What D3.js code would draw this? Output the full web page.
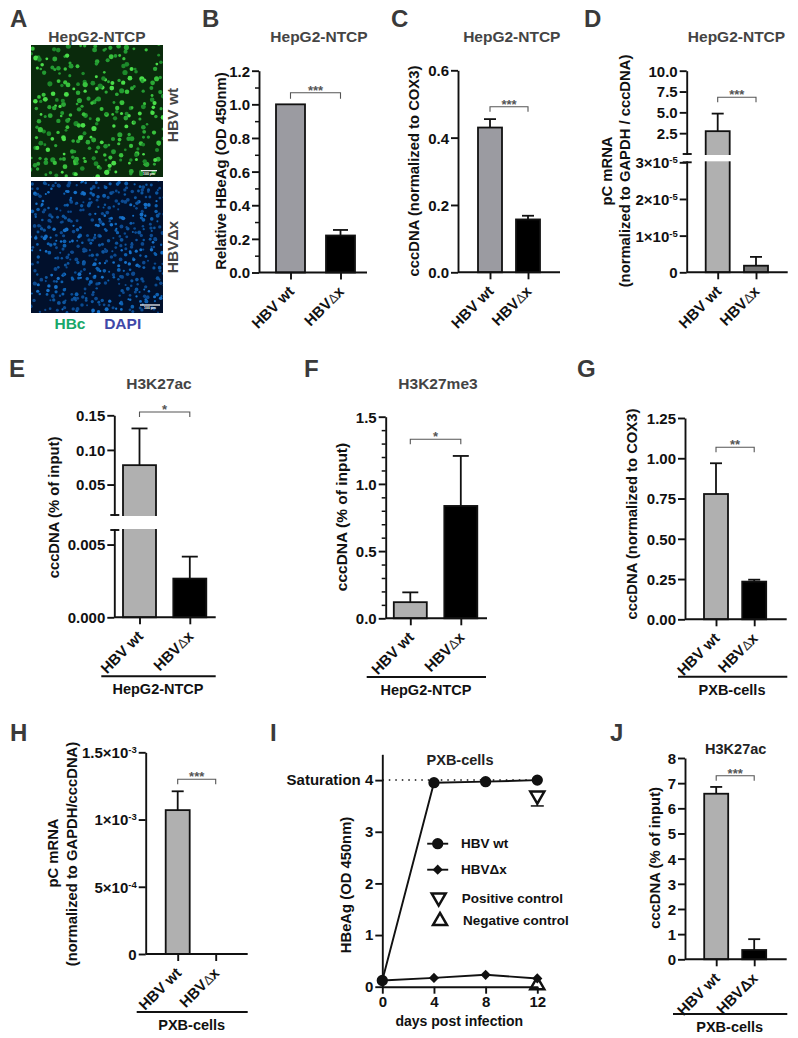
<!DOCTYPE html>
<html>
<head>
<meta charset="utf-8">
<title>HBV panels</title>
<script src="https://cdn.jsdelivr.net/npm/d3@7"></script>
<style>
  html, body { margin: 0; background: #fff; }
  svg { display: block; }
  text { font-family: "Liberation Sans", Arial, sans-serif; font-weight: 700; }
</style>
</head>
<body>
<svg id="fig" width="798" height="1038"></svg>
<script>
// values
var groups = ["HBV wt", "HBV\u0394x"];

var bMeans = [1.0, 0.22], bUppers = [1.0, 0.253];
var cMeans = [0.43, 0.157], cUppers = [0.455, 0.168];
var dMeans = [2.74, 0.18e-5], dUppers = [4.85, 0.42e-5];
var eMeans = [0.078, 0.00266], eUppers = [0.131, 0.00417];
var fMeans = [0.12, 0.836], fUppers = [0.193, 1.208];
var gMeans = [0.778, 0.234], gUppers = [0.969, 0.246];
var hMeans = [1.07e-3, 0], hUppers = [1.21e-3, 0];
var jMeans = [6.58, 0.37], jUppers = [6.85, 0.8];

var days = [0, 4, 8, 12];
var iWt = [0.12, 3.95, 3.97, 4.0];
var iDx = [0.12, 0.17, 0.23, 0.16];
var iPositive = [3.7], iPositiveLower = [3.5], iNegative = [0.03], iControlDay = [12];
var iSaturation = 4;

var bTicks = [0, 0.2, 0.4, 0.6, 0.8, 1.0, 1.2];
var bMinor = [0.1, 0.3, 0.5, 0.7, 0.9, 1.1];
var cTicks = [0, 0.2, 0.4, 0.6];
var dTicks = [0, 1e-5, 2e-5, 3e-5, 2.5, 5, 7.5, 10];
var eTicks = [0, 0.005, 0.05, 0.10, 0.15];
var fTicks = [0, 0.5, 1.0, 1.5];
var fMinor = [0.1, 0.2, 0.3, 0.4, 0.6, 0.7, 0.8, 0.9, 1.1, 1.2, 1.3, 1.4];
var gTicks = [0, 0.25, 0.5, 0.75, 1.0, 1.25];
var hTicks = [0, 5e-4, 1e-3, 1.5e-3];
var iTicks = [0, 1, 2, 3, 4];
var jTicks = [0, 1, 2, 3, 4, 5, 6, 7, 8];

var svg = d3.select("#fig"),
  dark = "#444",
  grey1 = "#9b9ba1",
  grey2 = "#b0b0b0";

function addText(parent, str, x, y, size, opts) {
  opts = opts || {};
  return parent.append("text")
    .attr("x", x)
    .attr("y", y)
    .attr("font-size", size)
    .attr("text-anchor", opts.anchor || "middle")
    .attr("fill", opts.fill || "#111")
    .text(str);
}

function vertText(str, x, y, size) {
  return svg.append("text")
    .attr("transform", "translate(" + x + "," + y + ") rotate(-90)")
    .attr("font-size", size)
    .attr("text-anchor", "middle")
    .attr("fill", "#111")
    .text(str);
}

// exponent ticks like 3x10^-5
function expFormat(text) {
  text.each(function(d) {
    var el = d3.select(this);
    if (d === 0 || d >= 0.1) return;
    var e = Math.floor(Math.log10(d) + 1e-9),
      m = Math.round(d / Math.pow(10, e) * 10) / 10;
    el.text(m + "\u00d710");
    el.append("tspan")
      .attr("dy", -5)
      .attr("font-size", 9.5)
      .text(e);
  });
}

function barPanel(p) {
  var g = svg.append("g"),
    y = d3.scaleLinear().domain(p.domain).range(p.range),
    x = d3.scalePoint().domain(groups).range(p.centers);

  g.selectAll("rect.bar")
    .data(groups.map(function(name, i) { return { name: name, mean: p.means[i], upper: p.uppers[i], fill: p.fills[i] }; }))
    .enter()
    .each(function(d) {
      if (d.mean === 0) return;
      var cx = x(d.name), sel = d3.select(this);
      if (d.upper > d.mean) {
        sel.append("line")
          .attr("x1", cx).attr("x2", cx)
          .attr("y1", y(d.mean)).attr("y2", y(d.upper))
          .attr("stroke", "#111").attr("stroke-width", 1.8);
        sel.append("line")
          .attr("x1", cx - p.capW / 2).attr("x2", cx + p.capW / 2)
          .attr("y1", y(d.upper)).attr("y2", y(d.upper))
          .attr("stroke", "#111").attr("stroke-width", 1.8);
      }
      sel.append("rect")
        .attr("class", "bar")
        .attr("x", cx - p.barW / 2)
        .attr("y", y(d.mean))
        .attr("width", p.barW)
        .attr("height", y(0) - y(d.mean))
        .attr("fill", d.fill)
        .attr("stroke", "#111")
        .attr("stroke-width", 1.8);
    });

  var yAxis = d3.axisLeft(y)
    .tickValues(p.ticks)
    .tickSize(7)
    .tickSizeOuter(0)
    .tickFormat(p.format || function(d) { return d.toFixed(p.digits); });

  var ag = g.append("g")
    .attr("transform", "translate(" + p.axisX + ",0)")
    .call(yAxis);
  ag.selectAll("path, line").attr("stroke", "#111").attr("stroke-width", 1.9);
  ag.selectAll("text")
    .attr("font-size", 15)
    .attr("font-family", "Liberation Sans")
    .attr("fill", "#111")
    .attr("x", -9)
    .attr("dy", "0.36em");
  if (p.exp) ag.selectAll(".tick text").call(expFormat);

  if (p.minor) {
    var mg = g.append("g")
      .attr("transform", "translate(" + p.axisX + ",0)")
      .call(d3.axisLeft(y).tickValues(p.minor).tickSize(4).tickSizeOuter(0).tickFormat(""));
    mg.select("path").remove();
    mg.selectAll("line").attr("stroke", "#111").attr("stroke-width", 1.5);
  }

  // x baseline and category ticks
  g.append("line")
    .attr("x1", p.axisX).attr("x2", p.xEnd)
    .attr("y1", y(0)).attr("y2", y(0))
    .attr("stroke", "#111").attr("stroke-width", 1.9);

  var xg = g.append("g")
    .attr("transform", "translate(0," + y(0) + ")")
    .call(d3.axisBottom(x).tickSize(7).tickSizeOuter(0).tickFormat(""));
  xg.select("path").remove();
  xg.selectAll("line").attr("stroke", "#111").attr("stroke-width", 1.9);

  groups.forEach(function(name) {
    var t = g.append("text")
      .attr("transform", "translate(" + (x(name) + 4.5) + "," + (y(0) + 20) + ") rotate(-45)")
      .attr("text-anchor", "end")
      .attr("font-size", 15)
      .attr("fill", "#111");
    if (name.indexOf("\u0394") > 0 && !p.boldDelta) {
      t.append("tspan").text("HBV");
      t.append("tspan").attr("font-weight", 400).attr("font-size", 13).attr("fill", "#333").text("\u0394");
      t.append("tspan").text("x");
    } else {
      t.text(name);
    }
  });

  // broken axis
  if (p.gap) {
    g.append("rect")
      .attr("x", p.axisX - 3)
      .attr("y", p.gap[0] + 1)
      .attr("width", p.centers[0] + p.barW / 2 - p.axisX + 5)
      .attr("height", p.gap[1] - p.gap[0] - 2)
      .attr("fill", "#fff");
    p.gap.forEach(function(gy) {
      g.append("line")
        .attr("x1", p.axisX - 4).attr("x2", p.axisX + 5)
        .attr("y1", gy).attr("y2", gy)
        .attr("stroke", "#111").attr("stroke-width", 1.9);
    });
  }

  // significance bracket
  var b = p.bracket;
  g.append("path")
    .attr("d", d3.line()([[x(groups[0]), b.y + b.drop], [x(groups[0]), b.y], [x(groups[1]), b.y], [x(groups[1]), b.y + b.drop]]))
    .attr("fill", "none")
    .attr("stroke", "#555")
    .attr("stroke-width", 1.1);
  addText(g, b.stars, (x(groups[0]) + x(groups[1])) / 2, b.y + 2, 13, { fill: "#555" });

  // group underline and cell type
  if (p.under) {
    g.append("line")
      .attr("x1", p.under.x1).attr("x2", p.under.x2)
      .attr("y1", p.under.y).attr("y2", p.under.y)
      .attr("stroke", "#111").attr("stroke-width", 1.9);
    addText(g, p.under.label, p.under.cx, p.under.y + 18, 14.5);
  }
}

barPanel({
  means: bMeans, uppers: bUppers, fills: [grey1, "#000"], ticks: bTicks, minor: bMinor, digits: 1,
  domain: [0, 1.2], range: [272.5, 70.7], axisX: 259, xEnd: 367, centers: [290.5, 340.5], barW: 29, capW: 15,
  bracket: { y: 92.7, drop: 6, stars: "***" }
});
barPanel({
  means: cMeans, uppers: cUppers, fills: [grey1, "#000"], ticks: cTicks, digits: 1,
  domain: [0, 0.6], range: [272.3, 70.3], axisX: 458, xEnd: 560, centers: [490, 528], barW: 24, capW: 12,
  bracket: { y: 106.7, drop: 5, stars: "***" }
});
barPanel({
  means: dMeans, uppers: dUppers, fills: [grey2, "#777"], ticks: dTicks, exp: true,
  format: function(d) { return d >= 0.1 ? d.toFixed(1) : "0"; },
  domain: [0, 3e-5, 3.001e-5, 10], range: [272.3, 162.3, 154, 70.7], axisX: 686.7, xEnd: 787.7,
  centers: [717.7, 756], barW: 24, capW: 12, gap: [154, 162.3],
  bracket: { y: 97.3, drop: 5, stars: "***" }
});
barPanel({
  means: eMeans, uppers: eUppers, fills: [grey2, "#000"], ticks: eTicks,
  format: function(d) { return d < 0.01 ? d.toFixed(3) : d.toFixed(2); },
  domain: [0, 0.006, 0.00601, 0.15], range: [617.3, 530, 515, 415.3], axisX: 114.3, xEnd: 215.7,
  centers: [139.5, 189.8], barW: 33, capW: 16, gap: [515, 530],
  bracket: { y: 412, drop: 5, stars: "*" },
  under: { x1: 101.3, x2: 215.7, y: 676.3, cx: 158, label: "HepG2-NTCP" }
});
barPanel({
  means: fMeans, uppers: fUppers, fills: [grey2, "#000"], ticks: fTicks, minor: fMinor, digits: 1,
  domain: [0, 1.5], range: [618.3, 416.7], axisX: 385.7, xEnd: 487, centers: [410.3, 460.8], barW: 33, capW: 16,
  bracket: { y: 439.3, drop: 5, stars: "*" },
  under: { x1: 366.7, x2: 486, y: 677, cx: 426, label: "HepG2-NTCP" }
});
barPanel({
  means: gMeans, uppers: gUppers, fills: [grey2, "#000"], ticks: gTicks, digits: 2,
  domain: [0, 1.25], range: [619.3, 418], axisX: 685, xEnd: 786.7, centers: [716, 754.2], barW: 24, capW: 12,
  bracket: { y: 447.3, drop: 5, stars: "**" },
  under: { x1: 678, x2: 787.3, y: 676.7, cx: 732, label: "PXB-cells" }
});
barPanel({
  means: hMeans, uppers: hUppers, fills: [grey2, "#000"], ticks: hTicks, exp: true,
  format: function(d) { return d === 0 ? "0" : d; },
  domain: [0, 1.5e-3], range: [954, 752.3], axisX: 145.7, xEnd: 247.7, centers: [177.7, 215.7], barW: 24, capW: 12,
  bracket: { y: 779.3, drop: 5, stars: "***" },
  under: { x1: 136.7, x2: 247.7, y: 1012, cx: 191.7, label: "PXB-cells" }
});
barPanel({
  means: jMeans, uppers: jUppers, fills: [grey2, "#000"], ticks: jTicks, digits: 0, boldDelta: true,
  domain: [0, 8], range: [959.3, 758], axisX: 685, xEnd: 786.7, centers: [716.2, 754.2], barW: 24, capW: 12,
  bracket: { y: 775.7, drop: 5, stars: "***" },
  under: { x1: 673, x2: 787.3, y: 1014, cx: 729.7, label: "PXB-cells" }
});

// Panel I
(function() {
  var g = svg.append("g"),
    x = d3.scaleLinear().domain([0, 12]).range([382.3, 537.3]),
    y = d3.scaleLinear().domain([0, 4.5]).range([986.7, 754.3]),
    line = d3.line().x(function(d) { return x(d[0]); }).y(function(d) { return y(d[1]); });

  g.append("line")
    .attr("x1", x(0)).attr("x2", x(12))
    .attr("y1", y(iSaturation)).attr("y2", y(iSaturation))
    .attr("stroke", "#111").attr("stroke-width", 1.5).attr("stroke-dasharray", "1.5 5");

  var ya = g.append("g").attr("transform", "translate(382.3,0)")
    .call(d3.axisLeft(y).tickValues(iTicks).tickSize(7).tickSizeOuter(0).tickFormat(function(d) { return d; }));
  var xa = g.append("g").attr("transform", "translate(0,986.7)")
    .call(d3.axisBottom(x).tickValues(days).tickSize(7).tickSizeOuter(0).tickFormat(function(d) { return d; }));
  [ya, xa].forEach(function(a) {
    a.selectAll("path, line").attr("stroke", "#111").attr("stroke-width", 1.9);
    a.selectAll("text").attr("font-size", 15).attr("font-family", "Liberation Sans").attr("fill", "#111");
  });
  ya.selectAll("text").attr("x", -9);
  xa.selectAll("text").attr("y", 10);
  ya.selectAll(".tick text").filter(function(d) { return d === iSaturation; }).text("Saturation 4");

  [iWt, iDx].forEach(function(series) {
    g.append("path")
      .attr("d", line(d3.zip(days, series)))
      .attr("fill", "none").attr("stroke", "#111").attr("stroke-width", 1.9);
  });

  var circle = d3.symbol(d3.symbolCircle, 100),
    square = d3.symbol(d3.symbolSquare, 52),
    tri = d3.symbol(d3.symbolTriangle, 85);

  g.selectAll("path.dx").data(d3.zip(days, iDx)).enter().append("path")
    .attr("class", "dx").attr("d", square)
    .attr("transform", function(d) { return "translate(" + x(d[0]) + "," + y(d[1]) + ") rotate(45)"; })
    .attr("fill", "#111");
  g.selectAll("path.wt").data(d3.zip(days, iWt)).enter().append("path")
    .attr("class", "wt").attr("d", circle)
    .attr("transform", function(d) { return "translate(" + x(d[0]) + "," + y(d[1]) + ")"; })
    .attr("fill", "#111");

  // positive control and its lower error
  var px = x(iControlDay[0]);
  g.append("line").attr("x1", px).attr("x2", px).attr("y1", y(iPositive[0])).attr("y2", y(iPositiveLower[0]))
    .attr("stroke", "#111").attr("stroke-width", 1.5);
  g.append("line").attr("x1", px - 6.5).attr("x2", px + 6.5).attr("y1", y(iPositiveLower[0])).attr("y2", y(iPositiveLower[0]))
    .attr("stroke", "#111").attr("stroke-width", 1.5);
  g.append("path").attr("d", tri)
    .attr("transform", "translate(" + px + "," + y(iPositive[0]) + ") rotate(180)")
    .attr("fill", "#fff").attr("stroke", "#111").attr("stroke-width", 2.5);
  g.append("path").attr("d", tri)
    .attr("transform", "translate(" + px + "," + y(iNegative[0]) + ")")
    .attr("fill", "none").attr("stroke", "#111").attr("stroke-width", 2.5);

  // legend
  var legendX = 437.7;
  [[843.7, circle, 0], [869.7, square, 45]].forEach(function(r) {
    g.append("line").attr("x1", legendX - 10.5).attr("x2", legendX + 10.5).attr("y1", r[0]).attr("y2", r[0])
      .attr("stroke", "#111").attr("stroke-width", 1.9);
    g.append("path").attr("d", r[1])
      .attr("transform", "translate(" + legendX + "," + r[0] + ") rotate(" + r[2] + ")")
      .attr("fill", "#111");
  });
  g.append("path").attr("d", tri).attr("transform", "translate(438.7,897.5) rotate(180)")
    .attr("fill", "#fff").attr("stroke", "#111").attr("stroke-width", 2.5);
  g.append("path").attr("d", tri).attr("transform", "translate(440,921)")
    .attr("fill", "#fff").attr("stroke", "#111").attr("stroke-width", 2.5);
  addText(g, "HBV wt", 461, 848, 13.5, { anchor: "start" });
  addText(g, "HBV\u0394x", 461, 874, 13.5, { anchor: "start" });
  addText(g, "Positive control", 461.7, 902.7, 13.5, { anchor: "start" });
  addText(g, "Negative control", 463, 925.3, 13.5, { anchor: "start" });
  addText(g, "days post infection", 459.3, 1026, 14);
})();

// rotated axis titles
vertText("Relative HBeAg (OD 450nm)", 226, 171, 14.8);
vertText("cccDNA (normalized to COX3)", 419, 171, 14.8);
vertText("pC mRNA", 611.7, 171, 14.8);
vertText("(normalized to GAPDH / cccDNA)", 630, 171, 14.8);
vertText("cccDNA (% of input)", 59, 507.5, 14.8);
vertText("cccDNA (% of input)", 346.7, 517, 15.5);
vertText("cccDNA (normalized to COX3)", 637, 514, 14.8);
vertText("pC mRNA", 58, 853, 14.8);
vertText("(normalized to GAPDH/cccDNA)", 77, 854, 14.8);
vertText("HBeAg (OD 450nm)", 351, 885, 14.8);
vertText("cccDNA (% of input)", 660, 858, 14.8);

// grey titles
[["HepG2-NTCP", 97, 42], ["HepG2-NTCP", 319, 42], ["HepG2-NTCP", 511.8, 42], ["HepG2-NTCP", 736.5, 42],
  ["H3K27ac", 159, 389], ["H3K27me3", 438, 389], ["PXB-cells", 460, 765], ["H3K27ac", 735.7, 754.3]
].forEach(function(t, i) {
  addText(svg, t[0], t[1], t[2], i < 6 ? 15.5 : 14.5, { fill: i < 6 ? dark : "#222" });
});

// panel letters
[["A", 10, 27], ["B", 202, 27], ["C", 391, 27], ["D", 584, 27], ["E", 9, 377], ["F", 304, 377], ["G", 577, 377],
  ["H", 10, 741], ["I", 270, 741], ["J", 610, 741]
].forEach(function(t) {
  addText(svg, t[0], t[1], t[2], 24, { anchor: "start", fill: "#3a3a3a" });
});

// Panel A micrographs. Not chart data: a fixed irrational-sequence dot texture stands in for the photo.
var defs = svg.append("defs");
defs.append("filter").attr("id", "soft").append("feGaussianBlur").attr("stdDeviation", 0.45);

function micrograph(id, top, bg, colors, count, rMin, rMax, wobble, holes) {
  var box = { x: 31, y: top, w: 132, h: 132 };
  defs.append("clipPath").attr("id", id).append("rect")
    .attr("x", box.x).attr("y", box.y).attr("width", box.w).attr("height", box.h);
  var g = svg.append("g").attr("clip-path", "url(#" + id + ")");
  g.append("rect").attr("x", box.x).attr("y", box.y).attr("width", box.w).attr("height", box.h).attr("fill", bg);
  var cells = d3.range(1, count).map(function(n) {
    return {
      u: (0.5 + 0.7548776662 * n) % 1 + wobble * Math.sin(n * n * 0.0137 + n * 2.399),
      v: (0.5 + 0.5698402910 * n) % 1 + wobble * Math.cos(n * n * 0.0091 + n * 1.117),
      s: (0.381966 * n) % 1,
      c: (0.7320508 * n) % 1
    };
  }).filter(function(d) {
    return !holes.some(function(h) { return Math.hypot(d.u - h[0], d.v - h[1]) < h[2]; });
  });
  var color = d3.scaleQuantize().domain([0, 1]).range(colors);
  g.append("g").attr("filter", "url(#soft)")
    .selectAll("circle").data(cells).enter().append("circle")
    .attr("cx", function(d) { return box.x + d.u * box.w; })
    .attr("cy", function(d) { return box.y + d.v * box.h; })
    .attr("r", function(d) { return rMin + d.s * (rMax - rMin); })
    .attr("fill", function(d) { return color(d.c); });
}

micrograph("mTop", 45, "#0a2a0c", ["#1f8a2a", "#2ba836", "#38c23c", "#4ade4a", "#249a30"], 340, 1.3, 2.6, 0.028,
  [[0.86, 0.12, 0.08], [0.42, 0.13, 0.07], [0.05, 0.28, 0.07], [0.78, 0.4, 0.07], [0.54, 0.64, 0.05],
    [0.3, 0.48, 0.05], [0.17, 0.62, 0.05], [0.63, 0.18, 0.05], [0.95, 0.6, 0.05], [0.7, 0.92, 0.05], [0.1, 0.05, 0.05]]);
micrograph("mBottom", 181, "#01102c", ["#0a4a90", "#0f5fb0", "#0d559f", "#1570c8", "#0a4a90"], 560, 1.0, 2.0, 0.02,
  [[0.12, 0.62, 0.06], [0.42, 0.32, 0.05], [0.2, 0.14, 0.06], [0.6, 0.85, 0.06], [0.88, 0.7, 0.05], [0.08, 0.92, 0.05],
    [0.72, 0.22, 0.05], [0.33, 0.8, 0.04]]);

// scale bars
[[141, 157, 170.7, 174.5], [140, 160, 305, 309]].forEach(function(s) {
  svg.append("line").attr("x1", s[0]).attr("x2", s[1]).attr("y1", s[2]).attr("y2", s[2]).attr("stroke", "#fff").attr("stroke-width", 1.2);
  addText(svg, "100 \u00b5m", (s[0] + s[1]) / 2, s[3], 3.5, { fill: "#fff" });
});

vertText("HBV wt", 178, 115, 15.5).attr("fill", dark);
vertText("HBV\u0394x", 178, 247, 15.5).attr("fill", dark);
addText(svg, "HBc", 70, 329, 15.5, { fill: "#17a86a" });
addText(svg, "DAPI", 122.7, 329, 15.5, { fill: "#4048a8" });
</script>
</body>
</html>
